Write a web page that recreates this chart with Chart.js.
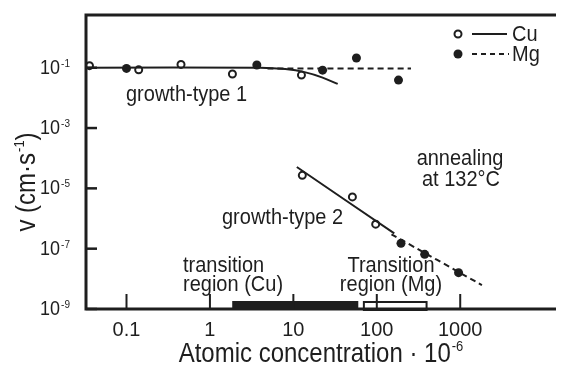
<!DOCTYPE html>
<html>
<head>
<meta charset="utf-8">
<script src="https://cdn.jsdelivr.net/npm/chart.js@4.4.1/dist/chart.umd.min.js"></script>
<style>
    html, body { margin: 0; padding: 0; background: #fff; }
    #wrap { width: 562px; height: 367px; position: relative; }
</style>
</head>
<body>
<div id="wrap"><canvas id="velocity-chart"></canvas></div>
<script>
// Growth velocity v vs. solute concentration (annealing at 132 °C)
const cuConc = [0.036, 0.14, 0.45, 1.86, 12.5, 12.8, 51, 97];
const cuVel = [0.117, 0.085, 0.129, 0.062, 0.057, 2.7e-5, 5.2e-6, 6.5e-7];
const mgConc = [0.1, 3.65, 22.4, 57, 182, 195, 375, 955];
const mgVel = [0.095, 0.123, 0.083, 0.21, 0.039, 1.5e-7, 6.5e-8, 1.6e-8];

// fitted curves, growth-type 1 and 2
const cuFit1Conc = [0.033, 4, 8, 14, 22, 34];
const cuFit1Vel = [0.1, 0.1, 0.09, 0.07, 0.048, 0.029];
const mgFit1Conc = [4.9, 257];
const mgFit1Vel = [0.095, 0.095];
const cuFit2Conc = [11, 162];
const cuFit2Vel = [5.1e-5, 3.2e-7];
const mgFit2Conc = [150, 1820];
const mgFit2Vel = [3.0e-7, 6.2e-9];

// transition regions along the concentration axis
const cuTransition = [1.85, 60];
const mgTransition = [70, 395];

const xTicks = [0.1, 1, 10, 100, 1000];
const xTickLabels = ['0.1', '1', '10', '100', '1000'];
const yTicks = [1e-9, 1e-7, 1e-5, 1e-3, 1e-1];
const yTickExp = ['-9', '-7', '-5', '-3', '-1'];

const FONT = '"Liberation Sans", Arial, Helvetica, sans-serif';
const INK = '#1e1e1e';
const STRETCH = 1.12;   // glyphs are a little taller than plain Arial

const pts = (xs, ys) => xs.map((v, i) => ({ x: v, y: ys[i] }));

function label(ctx, text, x, y, size, align, sy) {
    ctx.save();
    ctx.translate(x, y);
    ctx.scale(1, sy || STRETCH);
    ctx.font = `${size}px ${FONT}`;
    ctx.textAlign = align || 'left';
    ctx.textBaseline = 'alphabetic';
    ctx.fillText(text, 0, 0);
    ctx.restore();
}

function textWidth(ctx, text, size) {
    ctx.font = `${size}px ${FONT}`;
    return ctx.measureText(text).width;
}

// base text followed by a raised exponent, left edge at x
function powerText(ctx, base, exp, x, yBase, size, supSize, rise) {
    const w = textWidth(ctx, base, size);
    label(ctx, base, x, yBase, size);
    label(ctx, exp, x + w + 1, yBase - rise, supSize);
    return w + 1 + textWidth(ctx, exp, supSize);
}

function powerWidth(ctx, base, exp, size, supSize) {
    return textWidth(ctx, base, size) + 1 + textWidth(ctx, exp, supSize);
}

const axisFrame = {
    id: 'axisFrame',
    afterDatasetsDraw(chart) {
        const { ctx, chartArea: a, scales: { x, y } } = chart;
        ctx.save();
        ctx.strokeStyle = INK;
        ctx.fillStyle = INK;

        // transition bars sitting on the x axis
        const cx0 = x.getPixelForValue(cuTransition[0]);
        const cx1 = x.getPixelForValue(cuTransition[1]);
        ctx.fillRect(cx0, a.bottom - 8, cx1 - cx0, 9);
        const mx0 = x.getPixelForValue(mgTransition[0]);
        const mx1 = x.getPixelForValue(mgTransition[1]);
        ctx.lineWidth = 2;
        ctx.fillStyle = '#fff';
        ctx.fillRect(mx0, a.bottom - 7, mx1 - mx0, 7);
        ctx.strokeRect(mx0, a.bottom - 7, mx1 - mx0, 8);
        ctx.fillStyle = INK;

        // frame: left, top, bottom (open on the right)
        ctx.lineWidth = 3;
        ctx.beginPath();
        ctx.moveTo(a.right, a.top);
        ctx.lineTo(a.left, a.top);
        ctx.lineTo(a.left, a.bottom);
        ctx.lineTo(a.right, a.bottom);
        ctx.stroke();

        // inward ticks
        ctx.lineWidth = 2;
        xTicks.forEach(v => {
            const px = x.getPixelForValue(v);
            ctx.beginPath();
            ctx.moveTo(px, a.bottom);
            ctx.lineTo(px, a.bottom - 15);
            ctx.stroke();
        });
        ctx.lineWidth = 2.5;
        yTicks.forEach(v => {
            const py = y.getPixelForValue(v);
            ctx.beginPath();
            ctx.moveTo(a.left, py);
            ctx.lineTo(a.left + 11, py);
            ctx.stroke();
        });

        // tick labels
        xTicks.forEach((v, i) => {
            label(ctx, xTickLabels[i], x.getPixelForValue(v), a.bottom + 27, 20, 'center', 1.05);
        });
        yTicks.forEach((v, i) => {
            const py = y.getPixelForValue(v);
            const w = powerWidth(ctx, '10', yTickExp[i], 18, 10);
            powerText(ctx, '10', yTickExp[i], 70 - w, py + 6, 18, 10, 7);
        });

        // axis titles
        const tw = powerWidth(ctx, 'Atomic concentration · 10', '-6', 24, 13);
        powerText(ctx, 'Atomic concentration · 10', '-6', 321 - tw / 2, 362, 24, 13, 11);

        ctx.save();
        ctx.translate(35, 182);
        ctx.rotate(-Math.PI / 2);
        const t1 = 'v (cm·s';
        const w1 = textWidth(ctx, t1, 24);
        const w2 = textWidth(ctx, '-1', 13);
        const w3 = textWidth(ctx, ')', 24);
        const sx = -(w1 + w2 + w3 + 1) / 2;
        label(ctx, t1, sx, 0, 24);
        label(ctx, '-1', sx + w1 + 1, -11, 13);
        label(ctx, ')', sx + w1 + w2 + 1, 0, 24);
        ctx.restore();

        // annotations
        label(ctx, 'growth-type 1', 126, 101, 20);
        label(ctx, 'growth-type 2', 222, 224, 20);
        label(ctx, 'annealing', 460, 165, 20, 'center');
        label(ctx, 'at 132°C', 461, 186, 20, 'center');
        label(ctx, 'transition', 183, 272, 20);
        label(ctx, 'region (Cu)', 183, 291, 20);
        label(ctx, 'Transition', 391, 272, 20, 'center');
        label(ctx, 'region (Mg)', 391, 291, 20, 'center');

        // legend
        ctx.lineWidth = 2;
        ctx.beginPath();
        ctx.arc(458, 34, 3.5, 0, Math.PI * 2);
        ctx.fillStyle = '#fff';
        ctx.fill();
        ctx.stroke();
        ctx.fillStyle = INK;
        ctx.beginPath();
        ctx.moveTo(472, 34);
        ctx.lineTo(507, 34);
        ctx.stroke();
        label(ctx, 'Cu', 512, 41, 20);

        ctx.beginPath();
        ctx.arc(458, 54, 4.5, 0, Math.PI * 2);
        ctx.fill();
        ctx.setLineDash([5, 4]);
        ctx.beginPath();
        ctx.moveTo(472, 54);
        ctx.lineTo(509, 54);
        ctx.stroke();
        ctx.setLineDash([]);
        label(ctx, 'Mg', 512, 61, 20);

        ctx.restore();
    }
};

const lineSet = (data, dashed) => ({
    type: 'line',
    data,
    borderColor: INK,
    borderWidth: 2,
    borderDash: dashed ? [6, 4] : [],
    pointRadius: 0,
    fill: false,
    tension: 0.3,
    clip: false
});

new Chart(document.getElementById('velocity-chart'), {
    type: 'scatter',
    data: {
        datasets: [
            lineSet(pts(cuFit1Conc, cuFit1Vel), false),
            lineSet(pts(mgFit1Conc, mgFit1Vel), true),
            lineSet(pts(cuFit2Conc, cuFit2Vel), false),
            lineSet(pts(mgFit2Conc, mgFit2Vel), true),
            {
                label: 'Cu',
                data: pts(cuConc, cuVel),
                pointRadius: 3.5,
                borderWidth: 2,
                borderColor: INK,
                backgroundColor: '#fff',
                clip: false
            },
            {
                label: 'Mg',
                data: pts(mgConc, mgVel),
                pointRadius: 4.5,
                borderWidth: 0,
                backgroundColor: INK,
                clip: false
            }
        ]
    },
    options: {
        responsive: true,
        maintainAspectRatio: false,
        animation: false,
        layout: { padding: { left: 86, top: 15, right: 0, bottom: 58 } },
        plugins: { legend: { display: false }, tooltip: { enabled: false } },
        scales: {
            x: { type: 'logarithmic', display: false, min: 0.0327, max: 14060 },
            y: { type: 'logarithmic', display: false, min: 1e-9, max: 5.6 }
        }
    },
    plugins: [axisFrame]
});
</script>
</body>
</html>
